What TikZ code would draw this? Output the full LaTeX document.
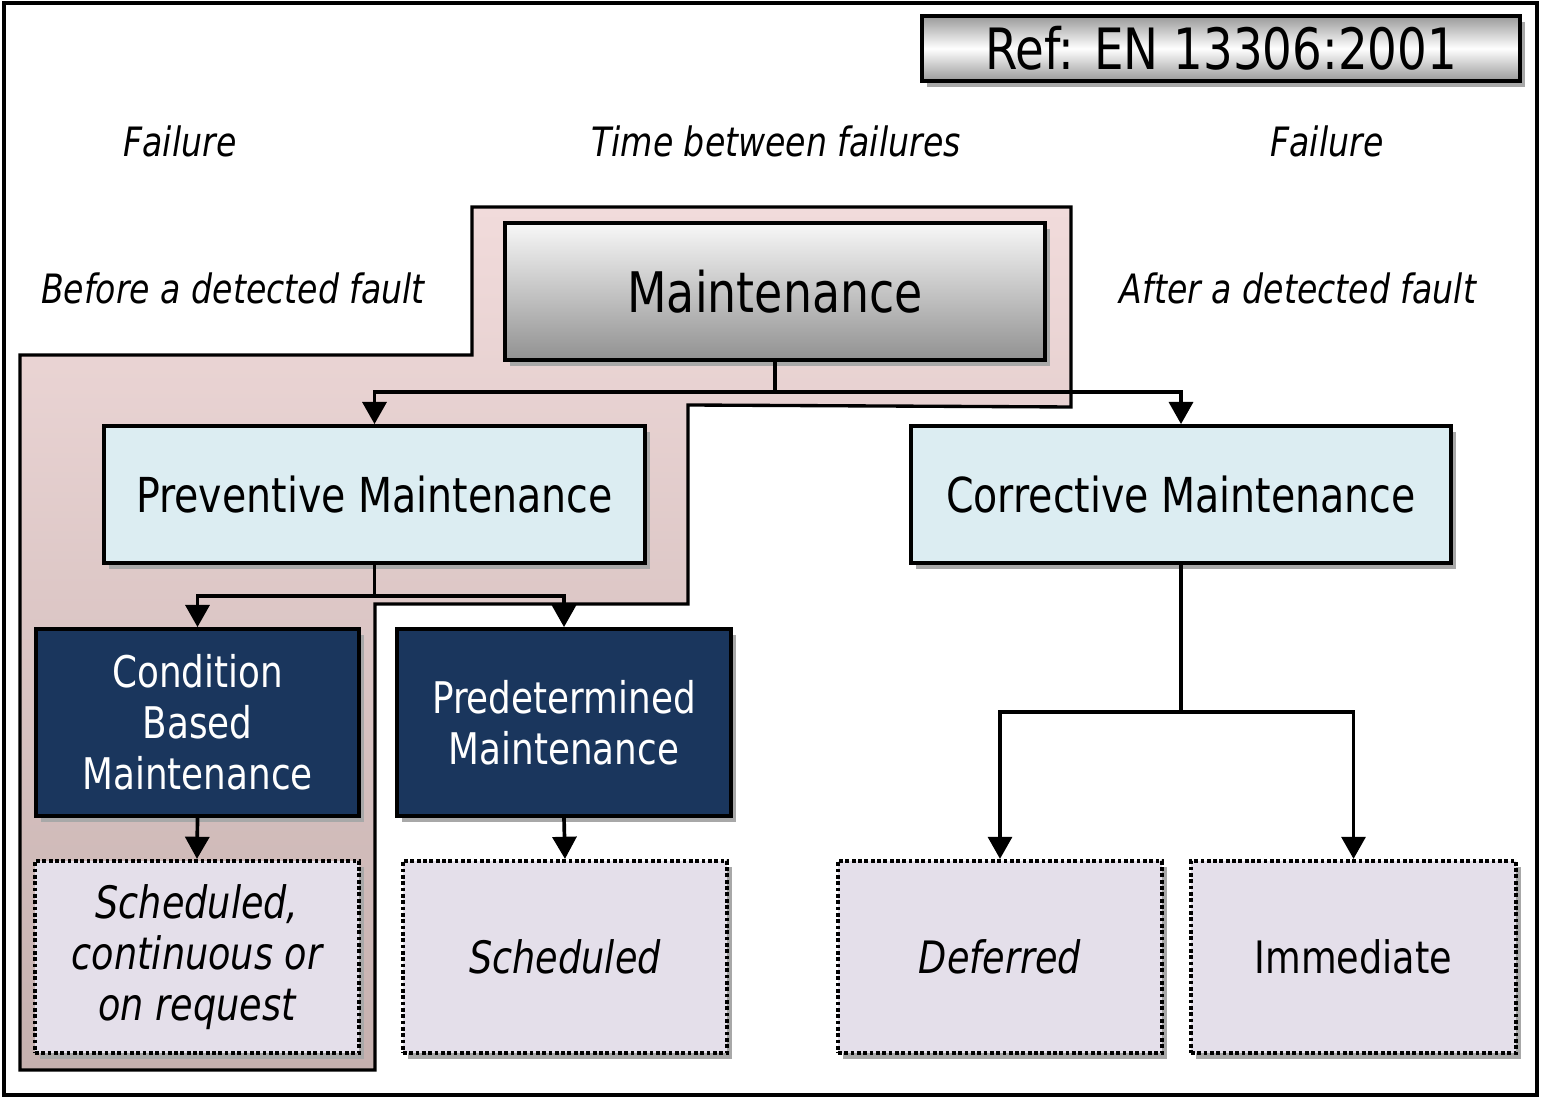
\documentclass[tikz,border=0pt]{standalone}
\usepackage{fontspec}
\setmainfont[FakeStretch=0.82]{DejaVu Sans}
\usetikzlibrary{arrows.meta}
\definecolor{pinktop}{RGB}{241,219,219}
\definecolor{pinkbot}{RGB}{197,176,174}
\definecolor{lblue}{RGB}{220,237,242}
\definecolor{navy}{RGB}{26,54,93}
\definecolor{lav}{RGB}{228,223,234}
\definecolor{shd}{RGB}{168,168,168}
\tikzset{
  shadowed/.style={preaction={draw=none,fill=shd,transform canvas={xshift=1.42pt,yshift=-1.7pt}}},
  box/.style={draw=black,line width=1.05pt,rectangle,inner sep=0pt,align=center,shadowed},
  bluebox/.style={box,fill=lblue,minimum width=5.4cm,minimum height=1.37cm,font=\fontsize{13.7pt}{16pt}\selectfont},
  navybox/.style={box,fill=navy,text=white,minimum height=1.87cm,font=\fontsize{12.4pt}{14.5pt}\selectfont},
  dotbox/.style={box,fill=lav,minimum width=3.24cm,minimum height=1.92cm,dash pattern=on 1.05pt off 0.75pt,line width=1.15pt,font=\fontsize{12.7pt}{14.4pt}\selectfont},
  lbl/.style={font=\fontsize{11.5pt}{13pt}\selectfont\itshape,inner sep=0pt},
  arr/.style={line width=1.05pt,-{Triangle[length=6.3pt,width=6.8pt]}},
  conn/.style={line width=1.05pt}
}
\begin{document}
\begin{tikzpicture}[x=0.01cm,y=-0.01cm]
\useasboundingbox (0,0) rectangle (1543,1104);
\fill[white] (0,0) rectangle (1543,1104);
% pink region
\shade[top color=pinktop,bottom color=pinkbot]
  (472,207) -- (1071,207) -- (1071,407) -- (688,405) -- (688,604) -- (375,604) -- (375,1070) -- (20,1070) -- (20,355) -- (472,355) -- cycle;
\draw[line width=0.95pt]
  (472,207) -- (1071,207) -- (1071,407) -- (688,405) -- (688,604) -- (375,604) -- (375,1070) -- (20,1070) -- (20,355) -- (472,355) -- cycle;
% frame
\draw[line width=1.3pt] (4,3) rectangle (1537,1095);
% reference box
\node[box,minimum width=5.98cm,minimum height=0.65cm,top color=gray!80,bottom color=gray!80,middle color=white,font=\fontsize{16.2pt}{18pt}\selectfont] (ref) at (1221,48.5) {Ref: EN 13306:2001};
% labels
\node[lbl] (f1) at (180,141) {Failure};
\node[lbl] (tb) at (776,141) {Time between failures};
\node[lbl] (f2) at (1327,141) {Failure};
\node[lbl] (bf) at (233,288) {Before a detected fault};
\node[lbl] (af) at (1298,288) {After a detected fault};
% boxes
\node[box,minimum width=5.4cm,minimum height=1.37cm,top color=white!97!black,bottom color=black!43,font=\fontsize{15.9pt}{18pt}\selectfont] (m) at (775,291.5) {Maintenance};
\node[bluebox] (pm) at (374.5,494.5) {Preventive Maintenance};
\node[bluebox] (cm) at (1181,494.5) {Corrective Maintenance};
\node[navybox,minimum width=3.23cm] (cb) at (197.5,722.5) {Condition\\Based\\Maintenance};
\node[navybox,minimum width=3.34cm] (pd) at (564,722.5) {Predetermined\\Maintenance};
\node[dotbox] (s1) at (197,957) {\itshape Scheduled,\\\itshape continuous or\\\itshape on request};
\node[dotbox] (s2) at (565,957) {\itshape Scheduled};
\node[dotbox] (df) at (1000,957) {\itshape Deferred};
\node[dotbox,minimum width=3.25cm] (im) at (1353.5,957) {Immediate};
% connectors
\coordinate (j1) at (775,392);
\coordinate (j2) at (374.5,596);
\coordinate (j3) at (1181,712);
\draw[conn] (m.south) -- (j1);
\draw[arr] (j1) -| (pm.north);
\draw[arr] (j1) -| (cm.north);
\draw[conn] (pm.south) -- (j2);
\draw[arr] (j2) -| (cb.north);
\draw[arr] (j2) -| (pd.north);
\draw[arr] (cb.south) -- (s1.north);
\draw[arr] (pd.south) -- (s2.north);
\draw[conn] (cm.south) -- (j3);
\draw[arr] (j3) -| (df.north);
\draw[arr] (j3) -| (im.north);
\end{tikzpicture}
\end{document}
